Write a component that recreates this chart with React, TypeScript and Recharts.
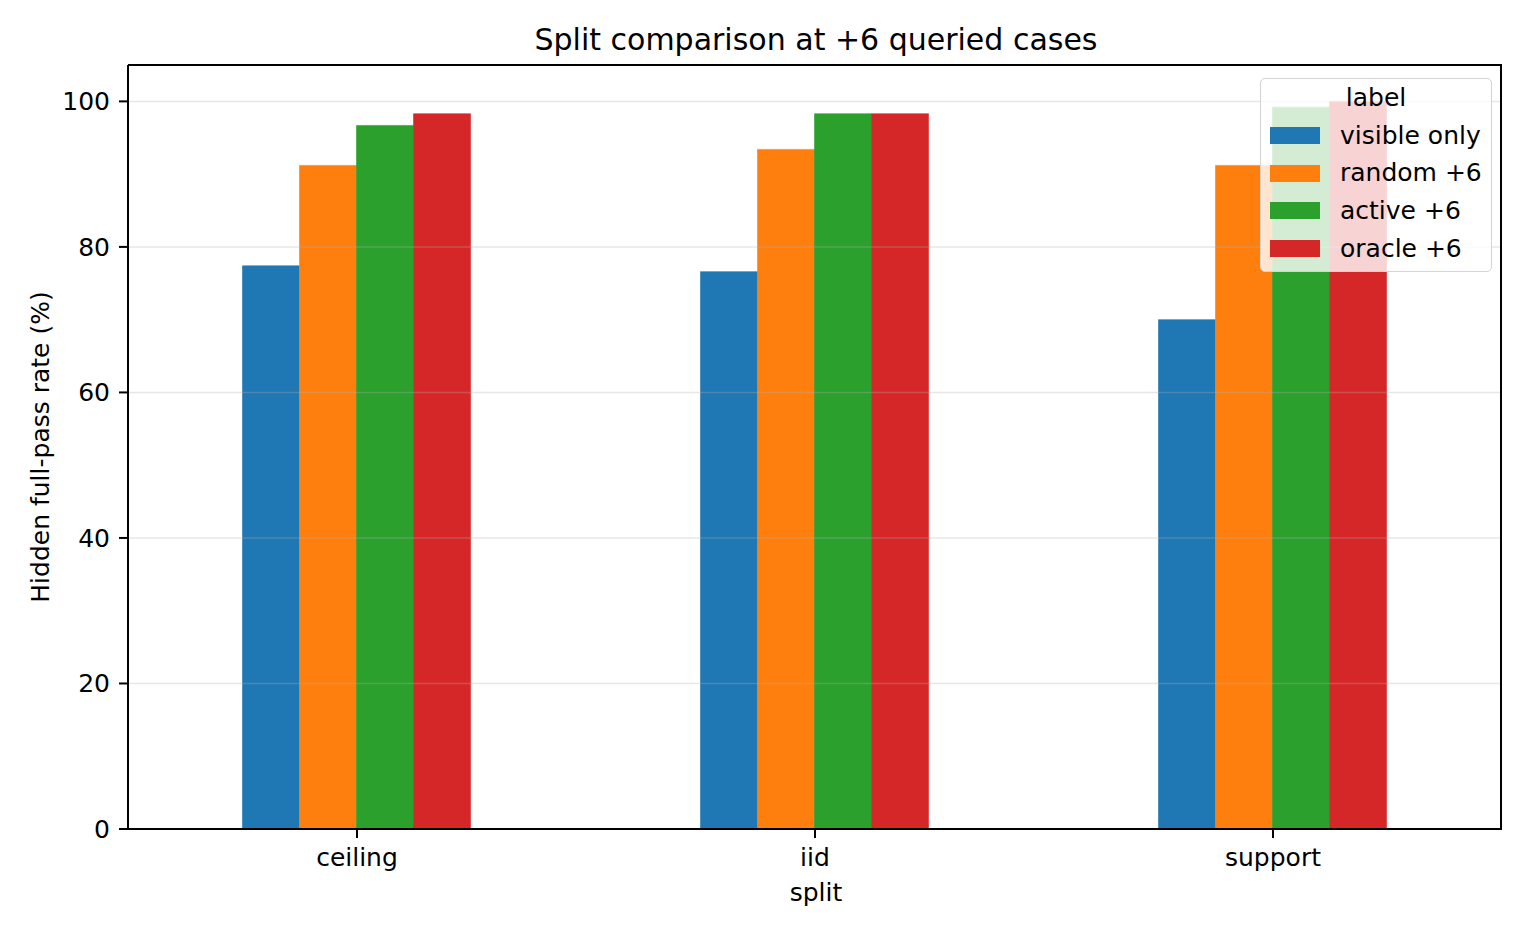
import { Bar, BarChart, Legend, ReferenceLine, XAxis, YAxis } from 'recharts';

const splits = ['ceiling', 'iid', 'support'];
const visibleOnly = [77.4, 76.6, 70.0];
const random6 = [91.2, 93.4, 91.2];
const active6 = [96.7, 98.3, 99.2];
const oracle6 = [98.3, 98.3, 100];
const yTicks = [0, 20, 40, 60, 80, 100];

const series = [
  { key: 'visible', name: 'visible only', color: '#1f77b4', values: visibleOnly },
  { key: 'random', name: 'random +6', color: '#ff7f0e', values: random6 },
  { key: 'active', name: 'active +6', color: '#2ca02c', values: active6 },
  { key: 'oracle', name: 'oracle +6', color: '#d62728', values: oracle6 },
];

const data = splits.map((split, i) => {
  const row: Record<string, string | number> = { split };
  series.forEach((s) => (row[s.key] = s.values[i]));
  return row;
});

const FONT = '"DejaVu Sans", sans-serif';
const tickStyle = { fontSize: 25, fill: '#000', fontFamily: FONT };

function LegendBox() {
  return (
    <div
      style={{
        width: 232,
        height: 194,
        boxSizing: 'border-box',
        background: 'rgba(255,255,255,0.8)',
        border: '1.5px solid #d4d4d4',
        borderRadius: 5,
        fontFamily: FONT,
        fontSize: 25,
        color: '#000',
        paddingTop: 5,
      }}
    >
      <div style={{ textAlign: 'center', lineHeight: '28px', height: 28, marginBottom: 5 }}>label</div>
      {series.map((s) => (
        <div key={s.key} style={{ display: 'flex', alignItems: 'center', height: 37.6 }}>
          <span style={{ width: 50, height: 17, background: s.color, marginLeft: 9, marginRight: 20 }} />
          <span style={{ lineHeight: '28px' }}>{s.name}</span>
        </div>
      ))}
    </div>
  );
}

export default function App() {
  return (
    <div style={{ position: 'absolute', left: 0, top: 0, width: 1530, height: 936, fontFamily: FONT, background: '#fff' }}>
      <div style={{ position: 'absolute', left: 0, width: 1632, top: 24, textAlign: 'center', fontSize: 30, lineHeight: '32px' }}>
        Split comparison at +6 queried cases
      </div>
      <BarChart
        width={1530}
        height={936}
        data={data}
        margin={{ top: 65, right: 28, left: 68, bottom: 77 }}
        barCategoryGap="25%"
        barGap={0}
      >
        {series.map((s) => (
          <Bar key={s.key} dataKey={s.key} name={s.name} fill={s.color} stroke={s.color} strokeWidth={0.6} isAnimationActive={false} />
        ))}
        {yTicks.map((t) => (
          <ReferenceLine key={t} y={t} stroke="#b0b0b0" strokeOpacity={0.3} strokeWidth={1.5} />
        ))}
        <XAxis
          dataKey="split"
          tick={tickStyle}
          tickSize={9}
          tickMargin={10}
          stroke="#000"
          strokeWidth={2}
          tickLine={{ stroke: '#000', strokeWidth: 2 }}
          height={30}
        />
        <YAxis
          domain={[0, 105]}
          ticks={yTicks}
          tick={tickStyle}
          tickSize={9}
          tickMargin={9}
          width={60}
          stroke="#000"
          strokeWidth={2}
          tickLine={{ stroke: '#000', strokeWidth: 2 }}
        />
        <Legend
          layout="vertical"
          align="center"
          verticalAlign="middle"
          content={() => <LegendBox />}
          wrapperStyle={{ top: 78, left: 1260, width: 232, height: 194 }}
        />
      </BarChart>
      {/* top and right spines */}
      <div
        style={{
          position: 'absolute',
          left: 128,
          top: 64,
          width: 1374,
          height: 765,
          borderTop: '2px solid #000',
          borderRight: '2px solid #000',
          boxSizing: 'border-box',
          pointerEvents: 'none',
        }}
      />
      <div style={{ position: 'absolute', left: 0, width: 1632, top: 880, textAlign: 'center', fontSize: 25, lineHeight: '26px' }}>
        split
      </div>
      <div
        style={{
          position: 'absolute',
          left: 41,
          top: 447,
          transform: 'translate(-50%, -50%) rotate(-90deg)',
          whiteSpace: 'nowrap',
          fontSize: 25,
          lineHeight: '26px',
        }}
      >
        Hidden full-pass rate (%)
      </div>
    </div>
  );
}
